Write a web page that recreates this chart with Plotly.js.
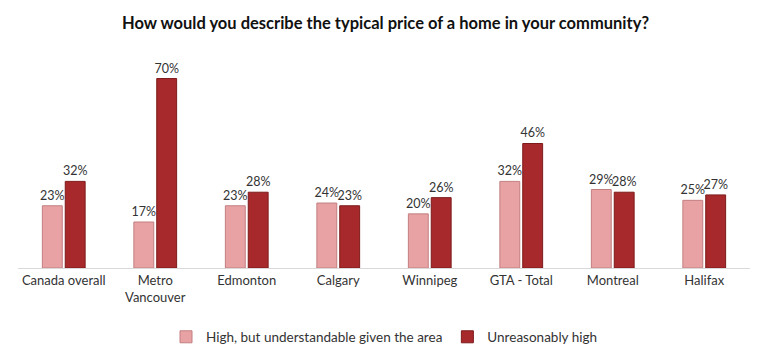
<!DOCTYPE html>
<html>
<head>
<meta charset="utf-8">
<script src="https://cdn.plot.ly/plotly-3.0.1.min.js"></script>
<style>html,body{margin:0;padding:0;background:#fff;}#chart{width:768px;height:364px;}</style>
</head>
<body>
<div id="chart"></div>
<script>
var categories = ["Canada overall", "Metro<br>Vancouver", "Edmonton", "Calgary", "Winnipeg", "GTA - Total", "Montreal", "Halifax"];
var understandable = [23, 17, 23, 24, 20, 32, 29, 25];
var unreasonable = [32, 70, 28, 23, 26, 46, 28, 27];
var seriesNames = ["High, but understandable given the area", "Unreasonably high"];

var font = "Lato, 'Open Sans', sans-serif";
function lbl(v){ return v.map(function(x){ return x + "%"; }); }

var traces = [
  {
    type: "bar", name: seriesNames[0], x: categories, y: understandable,
    text: lbl(understandable), textposition: "outside", cliponaxis: false, constraintext: "none",
    textfont: {family: font, size: 12.5, color: "#333"},
    marker: {color: "#e8a2a4", line: {color: "#c27f81", width: 1}},
    hoverinfo: "none"
  },
  {
    type: "bar", name: seriesNames[1], x: categories, y: unreasonable,
    text: lbl(unreasonable), textposition: "outside", cliponaxis: false, constraintext: "none",
    textfont: {family: font, size: 12.5, color: "#333"},
    marker: {color: "#a8292b", line: {color: "#7d1b1c", width: 1}},
    hoverinfo: "none"
  }
];

var layout = {
  width: 768, height: 364,
  margin: {l: 18, r: 18, t: 65, b: 94},
  paper_bgcolor: "#fff", plot_bgcolor: "#fff",
  title: {text: "<b>How would you describe the typical price of a home in your community?</b>",
          font: {family: font, size: 16.5, color: "#111"}, x: 0.502, xanchor: "center", y: 0.935, yanchor: "middle"},
  barmode: "group", bargap: 0.5, bargroupgap: 0.13,
  xaxis: {
    showline: true, linecolor: "#d9d9d9", linewidth: 1, ticks: "",
    tickfont: {family: font, size: 13, color: "#333"}, showgrid: false
  },
  yaxis: {range: [0, 75], visible: false, showgrid: false, zeroline: false},
  showlegend: true,
  legend: {orientation: "h", x: 0.5, xanchor: "center", y: -0.34, yanchor: "middle",
           font: {family: font, size: 13.5, color: "#333"}, itemwidth: 30, traceorder: "normal"},
  font: {family: font}
};

Plotly.newPlot("chart", traces, layout, {displayModeBar: false, staticPlot: true});
</script>
</body>
</html>
